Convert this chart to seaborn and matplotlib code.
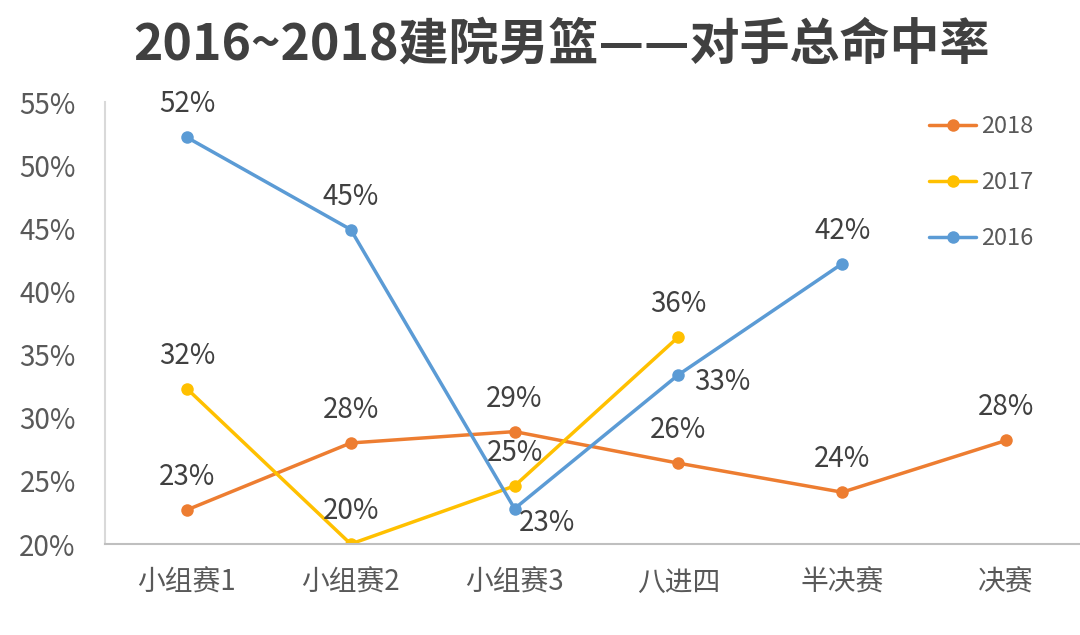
import numpy as np
import pandas as pd
import matplotlib
matplotlib.use("Agg")
import matplotlib.pyplot as plt
import seaborn as sns

# data
rounds = ["小组赛1", "小组赛2", "小组赛3", "八进四", "半决赛", "决赛"]
rate_2018 = [0.227, 0.280, 0.289, 0.264, 0.241, 0.282]
rate_2017 = [0.323, 0.200, 0.246, 0.364, np.nan, np.nan]
rate_2016 = [0.522, 0.449, 0.228, 0.334, 0.422, np.nan]
years = ["2018", "2017", "2016"]
colors = {"2018": "#ED7D31", "2017": "#FFC000", "2016": "#5B9BD5"}

sns.set_style("white")
plt.rcParams['font.family'] = ['Noto Sans CJK SC', 'DejaVu Sans']

rows = []
for yr, vals in zip(years, [rate_2018, rate_2017, rate_2016]):
    for i, v in enumerate(vals):
        if not np.isnan(v):
            rows.append({"pos": i, "rate": v, "year": yr})
df = pd.DataFrame(rows)

fig = plt.figure(figsize=(10.8, 6.35), dpi=100)
ax = fig.add_axes([105/1080, 1 - 544/635, (1088 - 105)/1080, (544 - 102)/635])

sns.lineplot(data=df, x="pos", y="rate", hue="year", hue_order=years,
             palette=colors, marker="o", markersize=9, markeredgewidth=0,
             linewidth=2.5, ax=ax)

# default label offset (pixels): above the point
offsets = {("2016", 2): (32, -14), ("2016", 3): (44, -7)}
for yr, vals in zip(years, [rate_2018, rate_2017, rate_2016]):
    for i, v in enumerate(vals):
        if np.isnan(v):
            continue
        dx, dy = offsets.get((yr, i), (0, 33))
        ax.annotate(f"{round(v * 100):.0f}%", (i, v), xytext=(dx, dy),
                    textcoords="offset pixels", ha="center", va="center",
                    fontsize=20, color="#404040")

ax.set_xlim(-0.5, 5.5)
ax.set_ylim(0.20, 0.55)
ax.set_xticks(range(len(rounds)))
ax.set_xticklabels(rounds)
ax.set_yticks(np.arange(0.20, 0.551, 0.05))
ax.set_yticklabels([f"{t}%" for t in range(20, 56, 5)])
ax.tick_params(axis="x", length=0, pad=17, labelsize=20, labelcolor="#595959")
ax.tick_params(axis="y", length=0, pad=21, labelsize=20, labelcolor="#595959")
ax.set_xlabel("")
ax.set_ylabel("")
for s in ["top", "right"]:
    ax.spines[s].set_visible(False)
ax.spines["bottom"].set_color("#BFBFBF")
ax.spines["bottom"].set_linewidth(1.5)
ax.spines["left"].set_color("#D9D9D9")
ax.spines["left"].set_linewidth(1.5)

leg = ax.legend(loc="upper left", bbox_to_anchor=(908/1080, 1 - 94/635),
                bbox_transform=fig.transFigure, frameon=False, fontsize=17,
                handlelength=2.0, handletextpad=0.2, labelspacing=1.4,
                labelcolor="#595959")

fig.text(0.52, 1 - 45/635, "2016~2018建院男篮——对手总命中率", ha="center",
         va="center", fontsize=36, fontweight="bold", color="#404040")

fig.savefig("out.png", dpi=100)
